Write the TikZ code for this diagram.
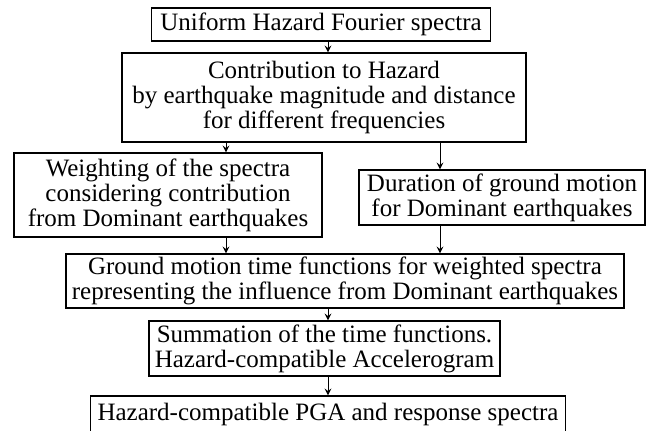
\documentclass[tikz,border=0pt]{standalone}
\usepackage{fontspec}
\setmainfont{Liberation Serif}
\usepackage{tikz}
\usetikzlibrary{arrows}
\newcommand*{\stagefont}{\fontsize{12.5}{12.5}\selectfont}
\tikzstyle{stage}=[draw,line width=0.7pt,align=center,inner sep=1pt,font=\stagefont]
\tikzstyle{edge}=[->,>=stealth,line width=0.5pt]
% name, x, y, width, height, text (all in pixels of the 652x430 sheet)
\newcommand*{\stagebox}[6]{
  \node[stage,minimum width=#4*0.5pt,minimum height=#5*0.5pt] (#1) at (#2,#3) {#6};
}

\begin{document}
\begin{tikzpicture}[x=0.5pt,y=-0.5pt]
  \useasboundingbox (0,0) rectangle (652,430);
  % boxes, top to bottom
  \stagebox{uhfs}{321}{24.5}{339}{33}{Uniform Hazard Fourier spectra}
  \stagebox{contrib}{324}{97.5}{404}{89}{Contribution to Hazard\\by earthquake magnitude and distance\\for different frequencies}
  \stagebox{weight}{168}{195}{308}{84}{Weighting of the spectra\\considering contribution\\from Dominant earthquakes}
  \stagebox{duration}{502}{197.5}{286}{55}{Duration of ground motion\\for Dominant earthquakes}
  \stagebox{timefn}{345}{281}{558}{54}{Ground motion time functions for weighted spectra\\representing the influence from Dominant earthquakes}
  \stagebox{summ}{324.5}{348.5}{351}{55}{Summation of the time functions.\\Hazard-compatible Accelerogram}
  \stagebox{pga}{328}{414}{475}{36}{Hazard-compatible PGA and response spectra}
  % arrow columns
  \coordinate (lcol) at (226,0);
  \coordinate (rcol) at (440,0);
  \coordinate (mcol) at (328,0);
  \draw[edge] (uhfs.south -| mcol) -- (contrib.north -| mcol);
  \draw[edge] (contrib.south -| lcol) -- (weight.north -| lcol);
  \draw[edge] (contrib.south -| rcol) -- (duration.north -| rcol);
  \draw[edge] (weight.south -| lcol) -- (timefn.north -| lcol);
  \draw[edge] (duration.south -| rcol) -- (timefn.north -| rcol);
  \draw[edge] (timefn.south -| mcol) -- (summ.north -| mcol);
  \draw[edge] (summ.south -| mcol) -- (pga.north -| mcol);
\end{tikzpicture}
\end{document}
